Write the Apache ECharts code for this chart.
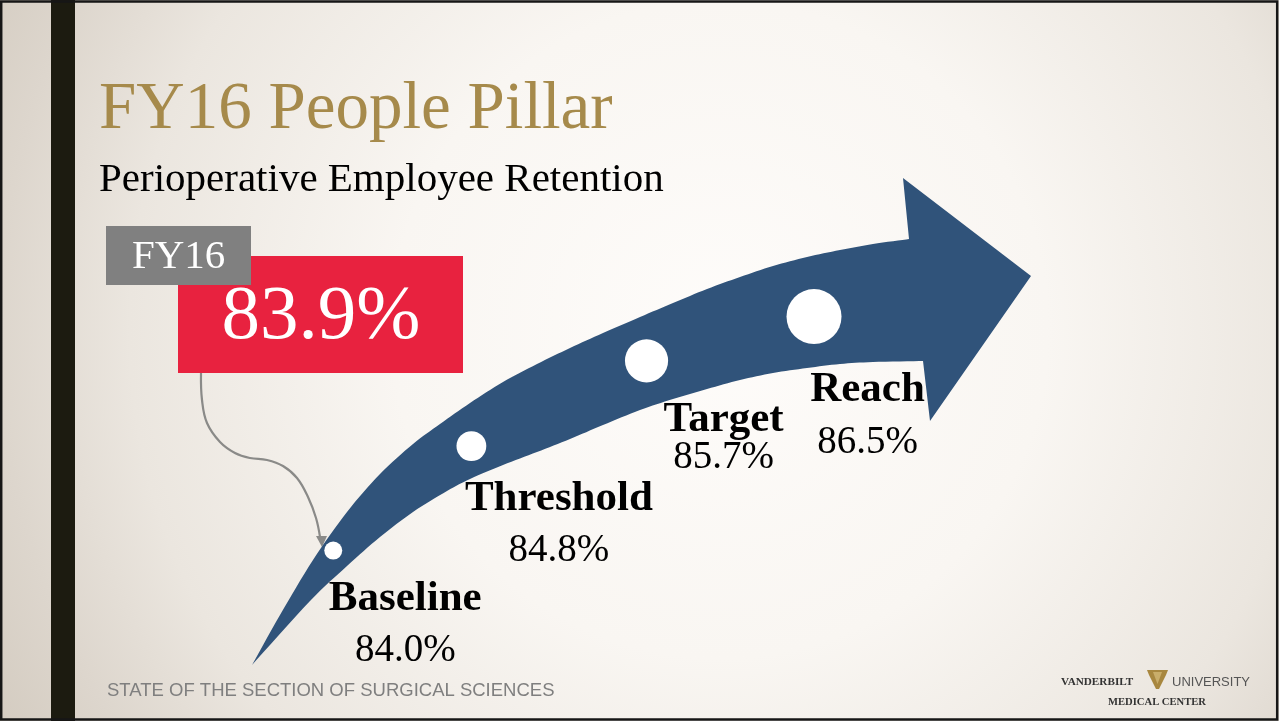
<!DOCTYPE html>
<html>
<head>
<meta charset="utf-8">
<script src="https://cdn.jsdelivr.net/npm/echarts@6/dist/echarts.min.js"></script>
<style>
html,body{margin:0;padding:0;background:#fff;}
#chart{width:1279px;height:721px;}
</style>
</head>
<body>
<div id="chart"></div>
<script>
// ---- data ----
const stages = ['Baseline', 'Threshold', 'Target', 'Reach'];
const retention = [84.0, 84.8, 85.7, 86.5];
const fy16Label = 'FY16';
const fy16Actual = 83.9;
const titleText = 'FY16 People Pillar';
const subtitleText = 'Perioperative Employee Retention';
const footerText = 'STATE OF THE SECTION OF SURGICAL SCIENCES';

// ---- layout / style (not data) ----
const labelLayout = [
  { offset: [72, 74], gap: 52 },
  { offset: [87.5, 78.5], gap: 52 },
  { offset: [77, 77.75], gap: 37.5 },
  { offset: [53.5, 99.5], gap: 53 }
];
const SERIF = '"Liberation Serif", "DejaVu Serif", serif';
const SANS = '"Liberation Sans", Arial, sans-serif';

// decorative arrow outline (pixel geometry of the slide artwork)
const arrowUpper = [
  [252,665],[280,615],[313,560],[347,512],[380,474],[413,444],[440,424],[470,403],[503,382],
  [537,364],[570,348],[603,333],[640,317],[673,303],[707,289],[740,277],[773,266],[807,257],
  [840,250],[873,244],[909,239]
];
const arrowHead = [[903,178],[1031,276],[930,421],[923,361]];
const arrowLower = [
  [923,361],[873,362],[840,364],[807,368],[773,373],[740,380],[707,389],[673,399],[640,410],
  [603,425],[570,439],[537,452],[503,465],[470,479],[447,491],[413,512],[380,537],[347,566],
  [310,601],[252,665]
];
const connectorPts = [
  [201,373],[202,400],[207,423],[220,442],[235,453],[250,458],[267,460],[283,466],
  [297,478],[308,497],[316,518],[320,537]
];

// Catmull-Rom smoothing, sampled into a dense point list
function smoothPts(pts) {
  const out = [pts[0]];
  for (let i = 0; i < pts.length - 1; i++) {
    const p0 = pts[i - 1] || pts[i], p1 = pts[i], p2 = pts[i + 1], p3 = pts[i + 2] || pts[i + 1];
    const c1 = [p1[0] + (p2[0] - p0[0]) / 6, p1[1] + (p2[1] - p0[1]) / 6];
    const c2 = [p2[0] - (p3[0] - p1[0]) / 6, p2[1] - (p3[1] - p1[1]) / 6];
    for (let k = 1; k <= 8; k++) {
      const t = k / 8, u = 1 - t;
      out.push([
        u*u*u*p1[0] + 3*u*u*t*c1[0] + 3*u*t*t*c2[0] + t*t*t*p2[0],
        u*u*u*p1[1] + 3*u*u*t*c1[1] + 3*u*t*t*c2[1] + t*t*t*p2[1]
      ]);
    }
  }
  return out;
}
const arrowOutline = smoothPts(arrowUpper).concat(arrowHead, smoothPts(arrowLower).slice(1));

function txt(text, x, y, font, fill, align, z) {
  return {
    type: 'text', z: z || 20, silent: true,
    style: {
      text: text, x: x, y: y, font: font, fill: fill,
      align: align || 'left', verticalAlign: 'middle',
      textAlign: align || 'left', textVerticalAlign: 'middle'
    }
  };
}

const chart = echarts.init(document.getElementById('chart'), null, { renderer: 'canvas' });

const option = {
  animation: false,
  polar: { center: [971, 1250], radius: [899, 994] },
  angleAxis: {
    type: 'value', min: 84, max: 84 + 360 / 13.125, startAngle: 132.36, clockwise: true,
    show: false, axisLine: { show: false }, axisTick: { show: false },
    axisLabel: { show: false }, splitLine: { show: false }
  },
  radiusAxis: {
    type: 'category', data: [subtitleText], show: false,
    axisLine: { show: false }, axisTick: { show: false },
    axisLabel: { show: false }, splitLine: { show: false }
  },
  graphic: [
    {
      type: 'rect', z: 0, silent: true,
      shape: { x: 0, y: 0, width: 1279, height: 721 },
      style: {
        fill: new echarts.graphic.RadialGradient(720, 330, 820, [
          { offset: 0, color: '#fefcfa' },
          { offset: 0.4, color: '#f9f6f2' },
          { offset: 0.72, color: '#ebe6df' },
          { offset: 0.88, color: '#ddd6cd' },
          { offset: 1, color: '#d4ccc1' }
        ], true)
      }
    },
    { type: 'rect', z: 1, silent: true, shape: { x: 51, y: 0, width: 24, height: 721 }, style: { fill: '#1c1b10' } },
    { type: 'rect', z: 30, silent: true, shape: { x: 1.2, y: 1.5, width: 1276, height: 718 }, style: { fill: 'none', stroke: '#161616', lineWidth: 2.5 } },
    // title and subtitle
    txt(titleText, 99, 110, '67px ' + SERIF, '#a68a4b'),
    txt(subtitleText, 99, 180, '41px ' + SERIF, '#000000'),
    // red value box + gray label box
    { type: 'rect', z: 5, silent: true, shape: { x: 178, y: 256, width: 285, height: 117 }, style: { fill: '#e8223f' } },
    txt(fy16Actual.toFixed(1) + '%', 321, 318, '77px ' + SERIF, '#ffffff', 'center', 7),
    { type: 'rect', z: 6, silent: true, shape: { x: 106, y: 226, width: 145, height: 59 }, style: { fill: '#808080' } },
    txt(fy16Label, 178.6, 257, '41px ' + SERIF, '#ffffff', 'center', 8),
    // connector
    { type: 'polyline', z: 2, silent: true, shape: { points: connectorPts, smooth: 0.4 }, style: { fill: 'none', stroke: '#8a8a88', lineWidth: 2.2 } },
    { type: 'polygon', z: 2, silent: true, shape: { points: [[316,536],[327,536],[322,547]] }, style: { fill: '#8a8a88' } },
    // arrow
    { type: 'polygon', z: 3, silent: true, shape: { points: arrowOutline }, style: { fill: '#30537a' } },
    // footer
    txt(footerText, 107, 691, '18.5px ' + SANS, '#7f7f7f'),
    // logo
    txt('VANDERBILT', 1061, 682, 'bold 11.2px ' + SERIF, '#333333'),
    {
      type: 'polygon', z: 20, silent: true,
      shape: { points: [[1147,670],[1168,670],[1166,675],[1159,689],[1156,689],[1149,675]] },
      style: { fill: '#a8873f' }
    },
    { type: 'polygon', z: 21, silent: true, shape: { points: [[1153,672],[1162,672],[1157.5,684]] }, style: { fill: '#c9ad6a' } },
    txt('UNIVERSITY', 1172, 682, '13px ' + SANS, '#555555'),
    txt('MEDICAL CENTER', 1157, 702.5, 'bold 10.6px ' + SERIF, '#333333', 'center')
  ],
  series: [{
    type: 'scatter',
    coordinateSystem: 'polar',
    z: 10,
    symbol: 'circle',
    symbolSize: function (val) { return 2 * (9 + 7.4 * (val[1] - 84)); },
    itemStyle: { color: '#ffffff', opacity: 1 },
    label: {
      show: true,
      position: 'inside',
      align: 'center',
      verticalAlign: 'middle',
      formatter: function (p) { return '{n|' + p.name + '}\n{v|' + p.value[1].toFixed(1) + '%}'; }
    },
    data: stages.map(function (s, i) {
      const L = labelLayout[i];
      return {
        name: s,
        value: [0, retention[i]],
        label: {
          offset: L.offset,
          rich: {
            n: { fontFamily: SERIF, fontWeight: 'bold', fontSize: 43, color: '#000', lineHeight: L.gap, align: 'center' },
            v: { fontFamily: SERIF, fontSize: 39, color: '#000', lineHeight: L.gap, align: 'center' }
          }
        }
      };
    })
  }]
};
chart.setOption(option);
</script>
</body>
</html>
